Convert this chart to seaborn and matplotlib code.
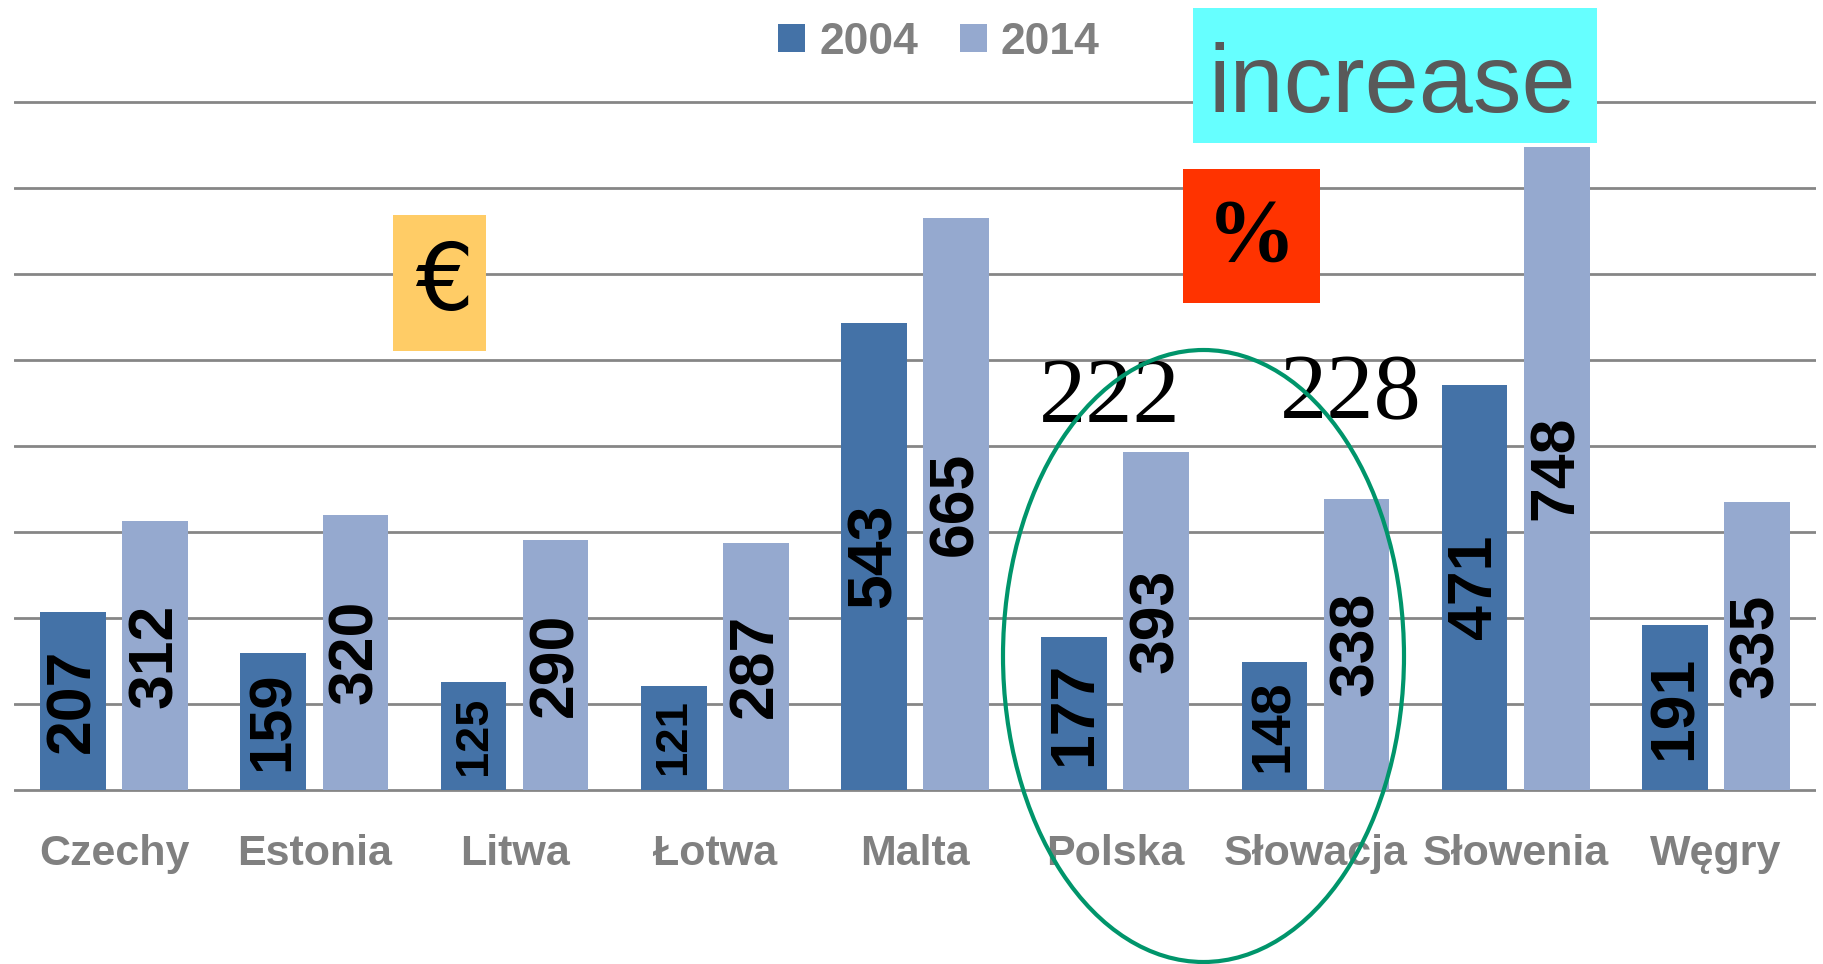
import pandas as pd
import matplotlib
matplotlib.use("Agg")
import matplotlib.pyplot as plt
import seaborn as sns
from matplotlib.patches import Rectangle, Ellipse, Patch

countries = ["Czechy", "Estonia", "Litwa", "Łotwa", "Malta", "Polska", "Słowacja", "Słowenia", "Węgry"]
wage_2004 = [207, 159, 125, 121, 543, 177, 148, 471, 191]
wage_2014 = [312, 320, 290, 287, 665, 393, 338, 748, 335]
years = ["2004", "2014"]
growth_labels = ["222", "228"]

df = pd.DataFrame({
    "country": countries * 2,
    "year": [years[0]] * len(countries) + [years[1]] * len(countries),
    "value": wage_2004 + wage_2014,
})

sns.set_theme(style="white")
plt.rcParams['font.family'] = ['Liberation Sans', 'DejaVu Sans']

W, H = 1823, 964
fig = plt.figure(figsize=(W / 100, H / 100), dpi=100)
ax = fig.add_axes([14 / W, 0.1783, (1816 - 14) / W, 0.7204])

colors = ["#4472A7", "#95A9CF"]
grey = "#808080"

sns.barplot(data=df, x="country", y="value", hue="year", palette=colors,
            width=0.82, gap=0.2, saturation=1, legend=False, ax=ax, zorder=2,
            edgecolor="none", linewidth=0)

ax.set_ylim(-3, 805)
ax.set_xlim(-0.5, len(countries) - 0.5)
ax.set_yticks(range(0, 801, 100))
ax.set_yticklabels([])
ax.yaxis.grid(True, color="#868686", linewidth=2.0, zorder=0)
ax.set_axisbelow(True)
for s in ax.spines.values():
    s.set_visible(False)
ax.set_xlabel("")
ax.set_ylabel("")
ax.tick_params(axis="x", length=0, pad=30, labelsize=31, labelcolor=grey)
ax.tick_params(axis="y", length=0)
for lbl in ax.get_xticklabels():
    lbl.set_fontweight("bold")

# value labels, centred in each bar, shrunk for short bars
for cont in ax.containers:
    for bar in cont:
        h = bar.get_height()
        size = min(45, 0.27 * h)
        ax.text(bar.get_x() + bar.get_width() / 2, h / 2, f"{h:.0f}",
                rotation=90, ha="center", va="center", fontsize=size,
                fontweight="bold", color="black", zorder=3)

handles = [Patch(facecolor=c, edgecolor="none") for c in colors]
leg = fig.legend(handles, years, loc="center", bbox_to_anchor=(939 / W, 1 - 42 / H),
                 ncol=2, frameon=False, handlelength=0.6, handleheight=0.6,
                 handletextpad=0.32, columnspacing=0.95,
                 prop={"size": 32, "weight": "bold"})
for t in leg.get_texts():
    t.set_color(grey)


def fx(x):
    return x / W


def fy(y):
    return 1 - y / H


def box(x0, y0, x1, y1, color):
    fig.add_artist(Rectangle((fx(x0), fy(y1)), fx(x1) - fx(x0), fy(y0) - fy(y1),
                             transform=fig.transFigure, facecolor=color,
                             edgecolor="none", zorder=5))


box(1193, 8, 1597, 143, "#66FFFF")
fig.text(fx(1392), fy(112), "increase", ha="center", va="baseline",
         fontsize=70, color="#595959", zorder=6)

box(1183, 169, 1320, 303, "#FF3300")
fig.text(fx(1251), fy(238), "%", ha="center", va="center", fontsize=64,
         fontweight="bold", color="black",
         family=["Liberation Serif", "DejaVu Serif"], zorder=6)

box(393, 215, 486, 351, "#FFCC66")
fig.text(fx(444), fy(284), "€", ha="center", va="center", fontsize=66,
         color="black", family=["DejaVu Sans"], zorder=6)

fig.text(fx(1110), fy(422), growth_labels[0], ha="center", va="baseline",
         fontsize=68, color="black",
         family=["Liberation Serif", "DejaVu Serif"], zorder=6)
fig.text(fx(1351), fy(418), growth_labels[1], ha="center", va="baseline",
         fontsize=68, color="black",
         family=["Liberation Serif", "DejaVu Serif"], zorder=6)

fig.add_artist(Ellipse((fx(1203.5), fy(656)), 401 / W, 612 / H,
                       transform=fig.transFigure, fill=False,
                       edgecolor="#00956B", linewidth=3, zorder=7))

fig.savefig("out.png", dpi=100, facecolor="white")
